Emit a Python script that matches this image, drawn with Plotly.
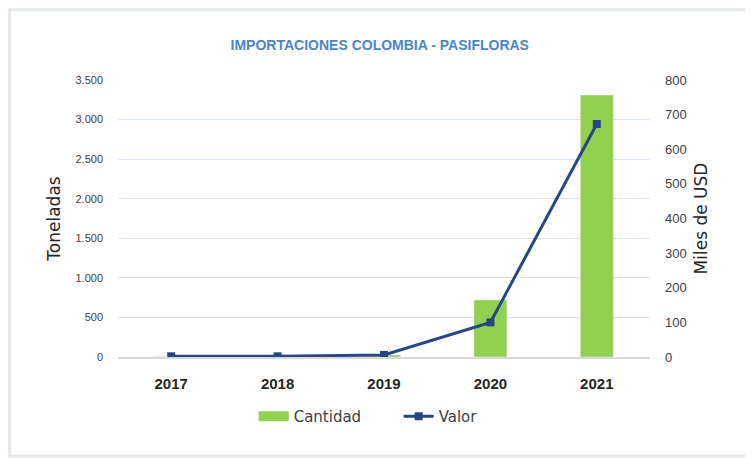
import plotly.graph_objects as go

years = ["2017", "2018", "2019", "2020", "2021"]
cantidad = [2, 3, 25, 720, 3310]
valor = [2, 2, 6, 100, 673]
left_ticks = [0, 500, 1000, 1500, 2000, 2500, 3000, 3500]
left_labels = ["0", "500", "1.000", "1.500", "2.000", "2.500", "3.000", "3.500"]
right_ticks = [0, 100, 200, 300, 400, 500, 600, 700, 800]

GREEN = "#92d050"
BLUE = "#254785"

fig = go.Figure()
fig.add_trace(go.Bar(x=years, y=cantidad, name="Cantidad", marker_color=GREEN,
                     width=0.31, yaxis="y", showlegend=False, legendgroup="c"))
# legend entry drawn as a wide rectangle (like the original)
fig.add_trace(go.Scatter(x=[None], y=[None], name="Cantidad", mode="lines",
                         line=dict(color=GREEN, width=13), legendgroup="c"))
fig.add_trace(go.Scatter(x=years, y=valor, name="Valor", mode="lines+markers",
                         line=dict(color=BLUE, width=3),
                         marker=dict(symbol="square", size=8, color=BLUE),
                         yaxis="y2"))

fig.update_layout(
    width=745, height=450,
    paper_bgcolor="white", plot_bgcolor="white",
    margin=dict(l=110, r=103, t=72, b=101),
    font=dict(family="Liberation Sans Narrow, Arial Narrow, Arial, sans-serif", color="#404040"),
    title=dict(text="<b>IMPORTACIONES COLOMBIA - PASIFLORAS</b>", x=0.499, xanchor="center",
               y=0.918, yanchor="middle",
               font=dict(size=14, color="#4a86c8")),
    xaxis=dict(type="category", automargin=False,
               tickfont=dict(size=15, color="#262626",
                             family="Liberation Sans Narrow, Arial Narrow, Arial, sans-serif"),
               tickprefix="<b>", ticksuffix="</b>",
               showgrid=False, showline=True, linecolor="#d9d9d9", linewidth=2,
               ticks="", ticklabelstandoff=12),
    yaxis=dict(range=[0, 3500], tickvals=left_ticks, ticktext=left_labels, automargin=False,
               tickfont=dict(size=11, color="#404040"),
               showgrid=True, gridcolor="#dae3f3", gridwidth=1, zeroline=False,
               title=dict(text="Toneladas", font=dict(size=17, color="#262626",
                          family="DejaVu Sans, sans-serif"), standoff=10),
               ticklabelstandoff=14),
    yaxis2=dict(range=[0, 800], tickvals=right_ticks, overlaying="y", side="right",
                automargin=False,
                tickfont=dict(size=13, color="#404040"), showgrid=False, zeroline=False,
                title=dict(text="Miles de USD", font=dict(size=17, color="#262626",
                           family="DejaVu Sans, sans-serif"), standoff=9),
                ticklabelstandoff=14),
    legend=dict(orientation="h", x=0.255, xanchor="left", y=-0.215, yanchor="middle",
                entrywidth=100, entrywidthmode="pixels",
                font=dict(size=15, color="#404040", family="DejaVu Sans, sans-serif")),
)

fig.add_shape(type="rect", xref="paper", yref="paper", x0=-0.204, x1=1.25, y0=-0.357, y1=1.254,
              line=dict(color="#e4e7ec", width=3), fillcolor="rgba(0,0,0,0)", layer="below")

fig.write_html("out.html")
